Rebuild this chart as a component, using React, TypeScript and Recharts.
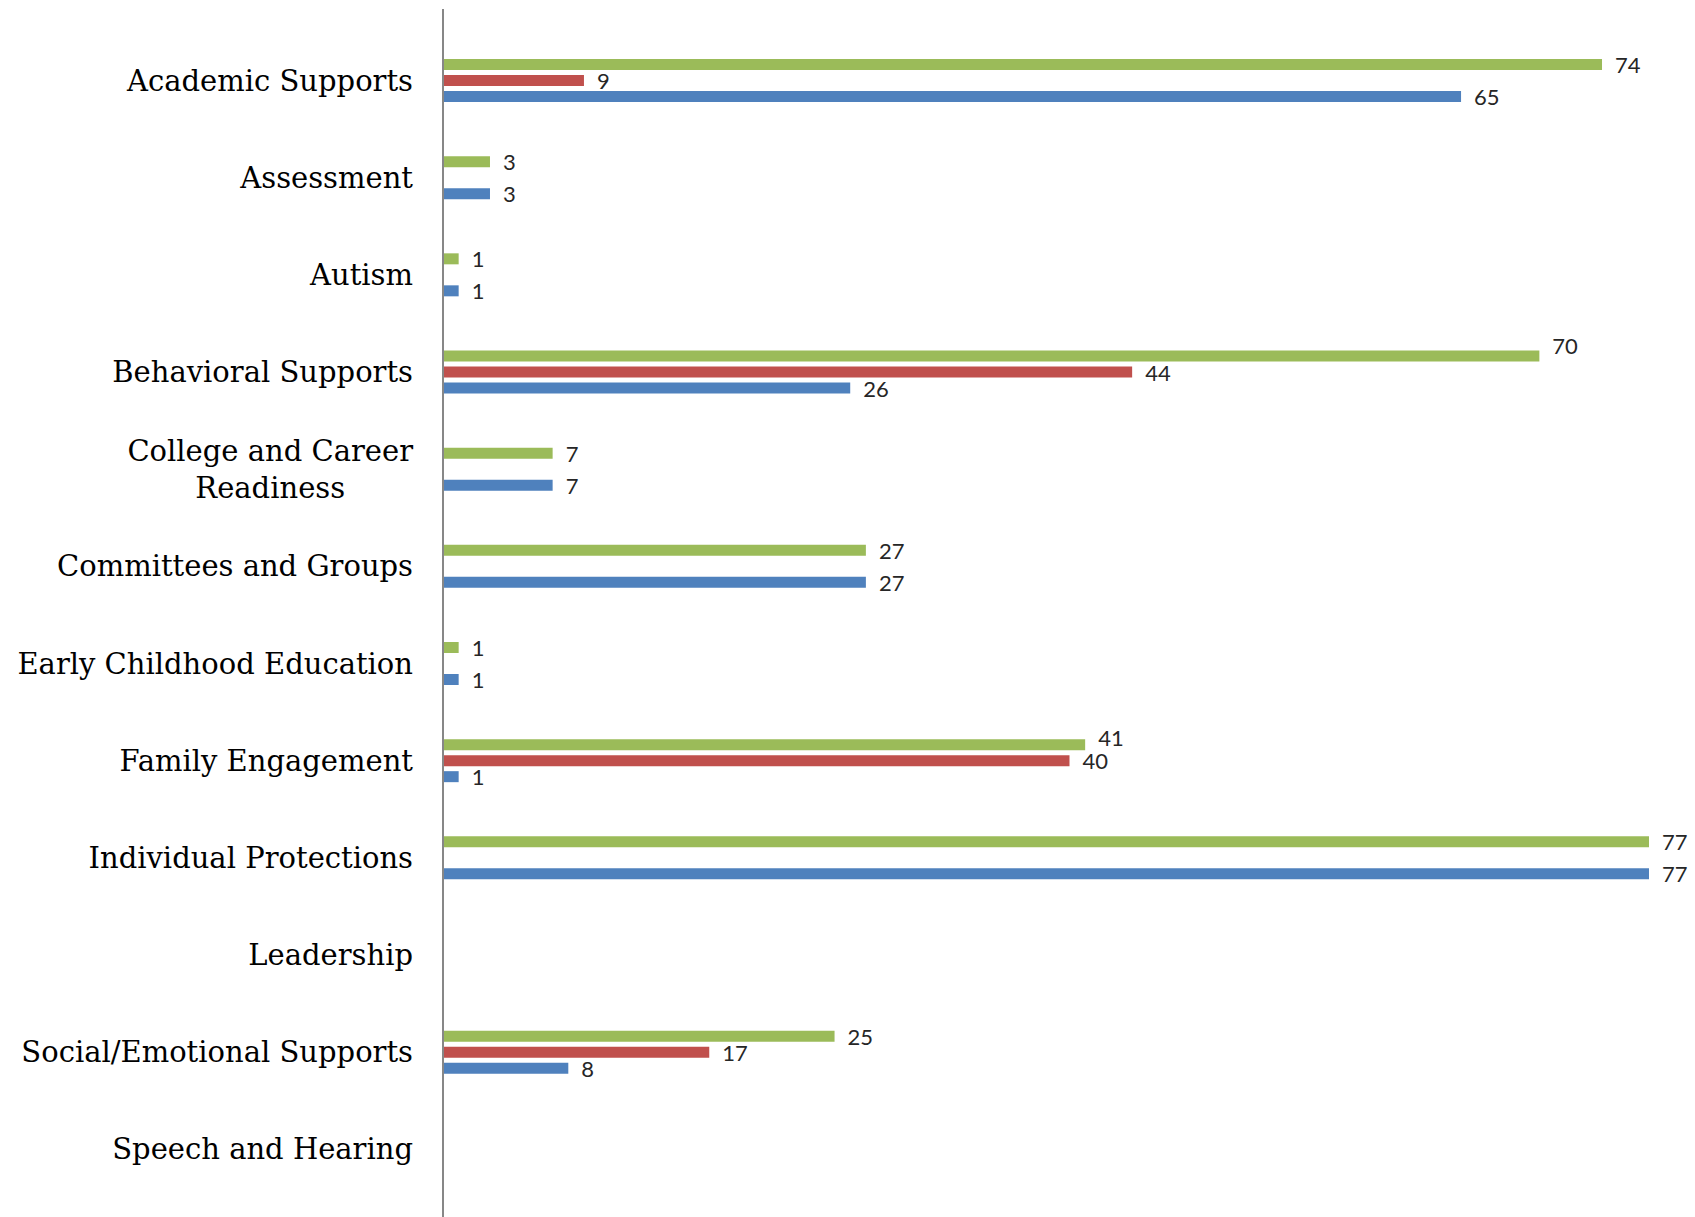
import React from "react";
import { BarChart, Bar, XAxis, YAxis, LabelList } from "recharts";

const categories = [
  "Academic Supports",
  "Assessment",
  "Autism",
  "Behavioral Supports",
  "College and Career Readiness",
  "Committees and Groups",
  "Early Childhood Education",
  "Family Engagement",
  "Individual Protections",
  "Leadership",
  "Social/Emotional Supports",
  "Speech and Hearing",
];

const totalValues = [74, 3, 1, 70, 7, 27, 1, 41, 77, 0, 25, 0];
const redValues = [9, 0, 0, 44, 0, 0, 0, 40, 0, 0, 17, 0];
const blueValues = [65, 3, 1, 26, 7, 27, 1, 1, 77, 0, 8, 0];

const wrappedLabels: Record<string, string[]> = {
  "College and Career Readiness": ["College and Career", "Readiness"],
};

// vertical nudges (px) for value labels that were moved in the original
const labelNudges: Record<string, number> = {
  "Behavioral Supports|total": -11,
  "Family Engagement|total": -7,
};

const TICK_FONT = "DejaVu Serif";
const TICK_SIZE = 29;
const VALUE_FONT = "Lato";
const VALUE_SIZE = 22;

const nz = (v: number) => (v === 0 ? null : v);

const data = categories.map((c, i) => ({
  name: c,
  total: nz(totalValues[i]),
  red: nz(redValues[i]),
  blue: nz(blueValues[i]),
}));

let measureCtx: CanvasRenderingContext2D | null = null;
function measure(text: string): number {
  if (!measureCtx) {
    const cv = document.createElement("canvas");
    measureCtx = cv.getContext("2d");
  }
  if (!measureCtx) return text.length * TICK_SIZE * 0.55;
  measureCtx.font = `${TICK_SIZE}px "${TICK_FONT}"`;
  return measureCtx.measureText(text).width;
}

const CategoryTick = (props: any) => {
  const { x, y, payload } = props;
  const label: string = payload.value;
  const lines = wrappedLabels[label];
  const common = {
    fontFamily: `"${TICK_FONT}", serif`,
    fontSize: TICK_SIZE,
    fill: "#000",
  };
  if (lines) {
    const maxW = Math.max(...lines.map(measure));
    const cx = x - maxW / 2;
    const lineH = 36.6;
    const start = 10 - (lineH * (lines.length - 1)) / 2;
    return (
      <text {...common} textAnchor="middle">
        {lines.map((l, i) => (
          <tspan key={i} x={cx} y={y + start + i * lineH}>
            {l}
          </tspan>
        ))}
      </text>
    );
  }
  return (
    <text {...common} x={x} y={y + 10} textAnchor="end">
      {label}
    </text>
  );
};

const makeValueRenderer = (key: string) => (props: any) => {
  const { x, y, width, height, value, index } = props;
  if (value === null || value === undefined || value === 0) return null;
  const cat = categories[index as number];
  const nudge = labelNudges[`${cat}|${key}`] || 0;
  return (
    <text
      x={Number(x) + Number(width) + 13}
      y={Number(y) + Number(height) / 2 + 8.5 + nudge}
      fontFamily={`"${VALUE_FONT}", sans-serif`}
      fontSize={VALUE_SIZE}
      fill="#262626"
      textAnchor="start"
    >
      {value}
    </text>
  );
};

export default function App() {
  return (
    <div style={{ position: "absolute", left: 0, top: 0, background: "#fff" }}>
      <BarChart
        width={1695}
        height={1217}
        data={data}
        layout="vertical"
        margin={{ top: 9, right: 46, left: 0, bottom: 0 }}
        barSize={11}
        barGap={5}
      >
        <XAxis type="number" domain={[0, 77]} hide />
        <YAxis
          type="category"
          dataKey="name"
          width={443}
          axisLine={{ stroke: "#878787", strokeWidth: 2 }}
          tickLine={false}
          tickSize={0}
          tickMargin={30}
          tick={<CategoryTick />}
          interval={0}
          padding={{ top: 23, bottom: 19 }}
        />
        <Bar dataKey="total" fill="#9BBB59" isAnimationActive={false}>
          <LabelList dataKey="total" content={makeValueRenderer("total")} />
        </Bar>
        <Bar dataKey="red" fill="#C0504D" isAnimationActive={false}>
          <LabelList dataKey="red" content={makeValueRenderer("red")} />
        </Bar>
        <Bar dataKey="blue" fill="#4F81BD" isAnimationActive={false}>
          <LabelList dataKey="blue" content={makeValueRenderer("blue")} />
        </Bar>
      </BarChart>
    </div>
  );
}
